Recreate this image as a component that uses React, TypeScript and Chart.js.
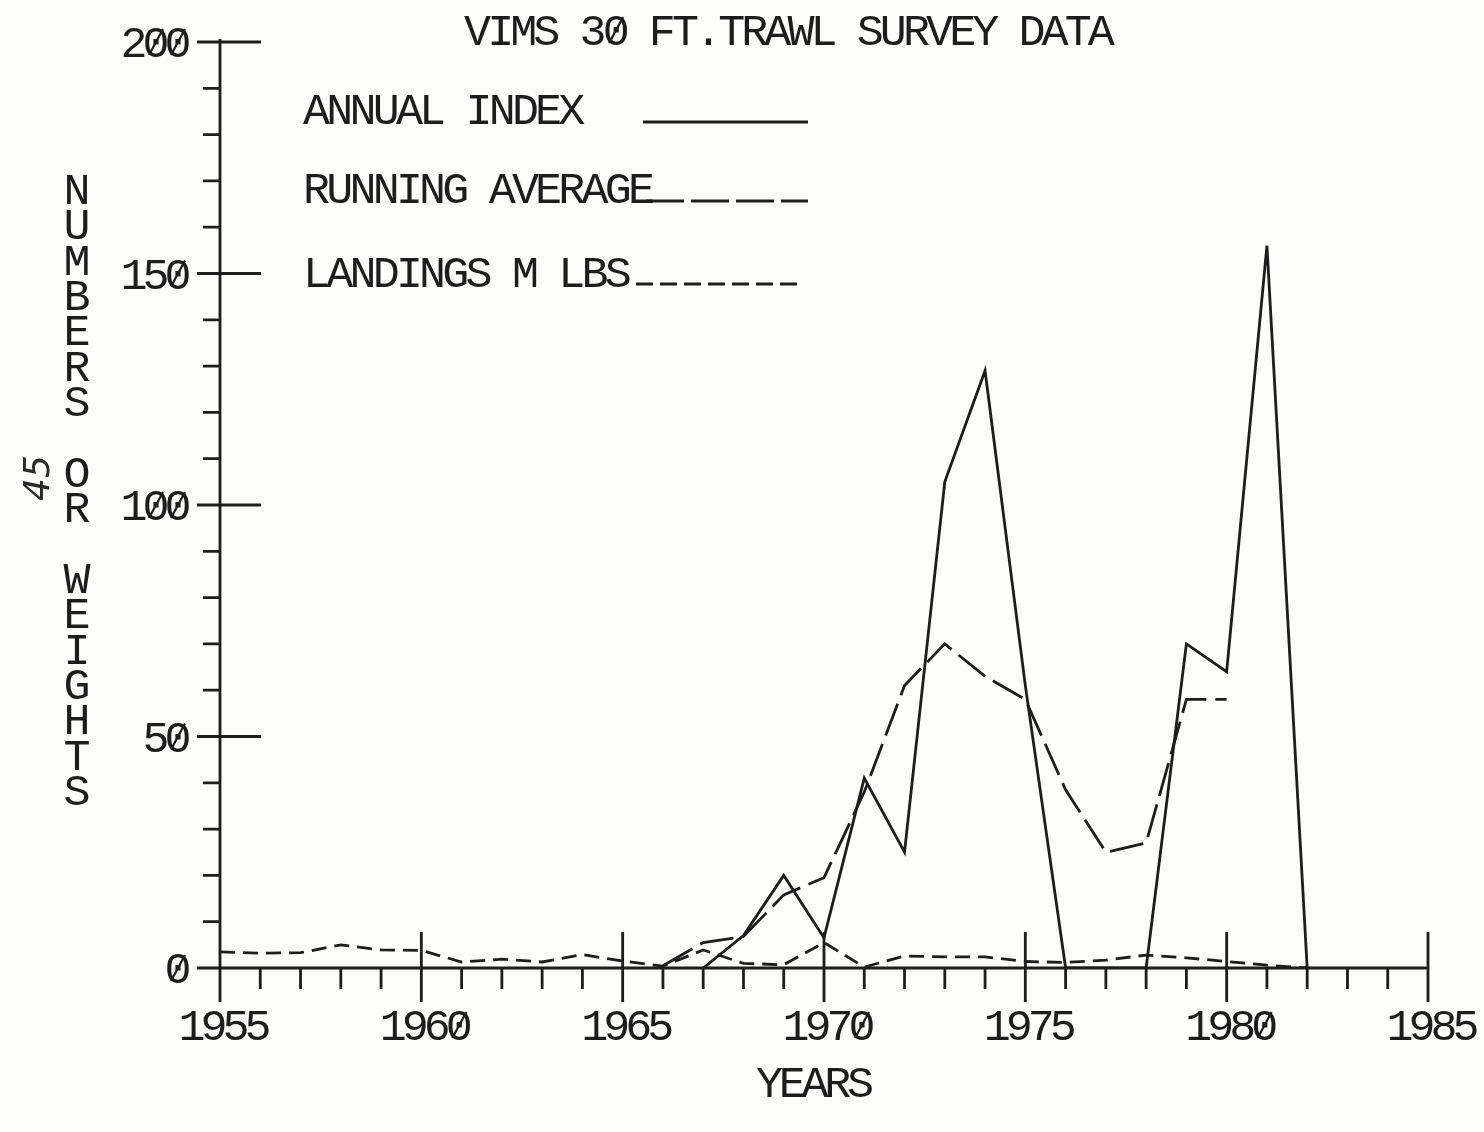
import React, { useEffect, useRef } from "react";
import { Chart, registerables } from "chart.js";

Chart.register(...registerables);

const years = [1955, 1956, 1957, 1958, 1959, 1960, 1961, 1962, 1963, 1964, 1965, 1966, 1967, 1968, 1969, 1970, 1971, 1972, 1973, 1974, 1975, 1976, 1977, 1978, 1979, 1980, 1981, 1982];

const annualIndex = [null, null, null, null, null, null, null, null, null, null, null, null, 0, 7, 20, 6.5, 41, 25, 105, 129, 61, 0, 0, 0, 70, 64, 156, 0];

const runningAverage = [null, null, null, null, null, null, null, null, null, null, null, 0.5, 5.5, 6.8, 15.8, 19.5, 38, 61, 70, 63, 58, 38.5, 25, 27, 58, 58, null, null];

const landings = [3.5, 3.2, 3.3, 5.0, 3.9, 3.8, 1.3, 1.9, 1.3, 2.9, 1.5, 0.4, 3.9, 1.0, 0.7, 5.5, 0.2, 2.6, 2.4, 2.4, 1.4, 1.2, 1.7, 2.8, 2.2, 1.4, 0.6, 0.0];

const seriesLabels = ["ANNUAL INDEX", "RUNNING AVERAGE", "LANDINGS M LBS"];
const seriesDashes = [[], [34, 9], [15, 8]];

const xMajorTicks = [1955, 1960, 1965, 1970, 1975, 1980, 1985];
const xTickLabels = ["1955", "1960", "1965", "1970", "1975", "1980", "1985"];
const yMajorTicks = [0, 50, 100, 150, 200];
const yTickLabels = ["0", "50", "100", "150", "200"];

const titleText = "VIMS 30 FT.TRAWL SURVEY DATA";
const yTitle = "NUMBERS OR WEIGHTS";
const xTitle = "YEARS";
const noteText = "45";

const INK = "#1d1d1d";
const FONT = "'Liberation Mono', 'DejaVu Sans Mono', monospace";
const FSIZE = 45;
const CAP = 30;

function plotText(ctx: CanvasRenderingContext2D, text: string, x: number, baseline: number, adv: number, align: "left" | "right" | "center") {
  const n = text.length;
  const total = n * adv;
  let left = x;
  if (align === "right") left = x - total;
  if (align === "center") left = x - total / 2;
  ctx.save();
  ctx.fillStyle = INK;
  ctx.strokeStyle = INK;
  ctx.font = `${FSIZE}px ${FONT}`;
  ctx.textAlign = "center";
  ctx.textBaseline = "alphabetic";
  for (let i = 0; i < n; i++) {
    const ch = text[i];
    if (ch === " ") continue;
    const cx = left + (i + 0.5) * adv;
    ctx.fillText(ch, cx, baseline);
    if (ch === "0") {
      ctx.lineWidth = 2.2;
      ctx.beginPath();
      ctx.moveTo(cx - 7, baseline - 2);
      ctx.lineTo(cx + 7, baseline - CAP + 2);
      ctx.stroke();
    }
  }
  ctx.restore();
}

const decorPlugin = {
  id: "plotterDecor",
  beforeDraw(chart: any) {
    const { ctx, width, height } = chart;
    ctx.save();
    ctx.fillStyle = "#fcfcfb";
    ctx.fillRect(0, 0, width, height);
    ctx.restore();
  },
  beforeDatasetsDraw(chart: any) {
    const { ctx } = chart;
    const xs = chart.scales.x;
    const ys = chart.scales.y;
    const x0 = xs.getPixelForValue(xs.min);
    const x1 = xs.getPixelForValue(xs.max);
    const y0 = ys.getPixelForValue(0);
    const yTop = ys.getPixelForValue(ys.max);
    ctx.save();
    ctx.strokeStyle = INK;
    ctx.lineWidth = 2.8;
    ctx.lineCap = "butt";
    ctx.beginPath();
    ctx.moveTo(x0, yTop - 3);
    ctx.lineTo(x0, y0 + 34);
    ctx.moveTo(x0 - 23, y0);
    ctx.lineTo(x1, y0);
    for (let v = ys.min; v <= ys.max; v += 10) {
      const py = ys.getPixelForValue(v);
      if (yMajorTicks.includes(v)) {
        ctx.moveTo(x0 - 23, py);
        ctx.lineTo(x0 + 41, py);
      } else {
        ctx.moveTo(x0 - 17, py);
        ctx.lineTo(x0, py);
      }
    }
    for (let v = xs.min; v <= xs.max; v += 1) {
      const px = xs.getPixelForValue(v);
      if (xMajorTicks.includes(v)) {
        ctx.moveTo(px, y0 - 36);
        ctx.lineTo(px, y0 + 34);
      } else {
        ctx.moveTo(px, y0);
        ctx.lineTo(px, y0 + 21);
      }
    }
    ctx.stroke();
    ctx.restore();

    yMajorTicks.forEach((v, i) => {
      const py = ys.getPixelForValue(v);
      plotText(ctx, yTickLabels[i], x0 - 31, py + CAP / 2, 22, "right");
    });
    xMajorTicks.forEach((v, i) => {
      const px = xs.getPixelForValue(v);
      plotText(ctx, xTickLabels[i], px + 5, y0 + 72, 22, "center");
    });
  },
  afterDatasetsDraw(chart: any) {
    const { ctx } = chart;
    plotText(ctx, titleText, 466, 45, 23.1, "left");
    plotText(ctx, xTitle, 815, 1097, 22.8, "center");
    const step = 35.35;
    for (let i = 0; i < yTitle.length; i++) {
      const ch = yTitle[i];
      if (ch === " ") continue;
      plotText(ctx, ch, 77, 189 + i * step + CAP / 2, 22, "center");
    }
    ctx.save();
    ctx.translate(40, 478);
    ctx.rotate(-Math.PI / 2);
    ctx.fillStyle = "#2a2a2a";
    ctx.font = "italic 36px 'DejaVu Sans', sans-serif";
    ctx.textAlign = "center";
    ctx.textBaseline = "middle";
    ctx.fillText(noteText, 0, 0);
    ctx.restore();

    const rows = [
      { base: 124, lineY: 122, x1: 643, x2: 808 },
      { base: 203, lineY: 201, x1: 646, x2: 808 },
      { base: 287, lineY: 284, x1: 636, x2: 803 },
    ];
    chart.data.datasets.forEach((ds: any, i: number) => {
      const r = rows[i];
      plotText(ctx, ds.label, 305, r.base, 23.2, "left");
      ctx.save();
      ctx.strokeStyle = INK;
      ctx.lineWidth = 2.8;
      ctx.setLineDash(i === 0 ? [] : i === 1 ? [38, 7] : [17, 7]);
      ctx.beginPath();
      ctx.moveTo(r.x1, r.lineY);
      ctx.lineTo(r.x2, r.lineY);
      ctx.stroke();
      ctx.restore();
    });
  },
};

export default function App() {
  const ref = useRef<HTMLCanvasElement | null>(null);
  useEffect(() => {
    if (!ref.current) return;
    const series = [annualIndex, runningAverage, landings];
    const chart = new Chart(ref.current, {
      type: "line",
      data: {
        datasets: series.map((vals, i) => ({
          label: seriesLabels[i],
          data: years.map((yr, j) => ({ x: yr, y: vals[j] })),
          borderColor: INK,
          borderWidth: 2.8,
          borderDash: seriesDashes[i],
          pointRadius: 0,
          tension: 0,
          fill: false,
          spanGaps: false,
        })),
      },
      options: {
        animation: false,
        responsive: true,
        maintainAspectRatio: false,
        devicePixelRatio: 1,
        layout: { padding: { left: 220, right: 56, top: 42, bottom: 164 } },
        plugins: { legend: { display: false }, tooltip: { enabled: false }, title: { display: false } },
        events: [],
        scales: {
          x: { type: "linear", min: 1955, max: 1985, display: false },
          y: { type: "linear", min: 0, max: 200, display: false },
        },
      },
      plugins: [decorPlugin],
    });
    return () => chart.destroy();
  }, []);
  return (
    <div style={{ position: "absolute", left: 0, top: 0, width: 1484, height: 1132 }}>
      <canvas ref={ref} />
    </div>
  );
}
